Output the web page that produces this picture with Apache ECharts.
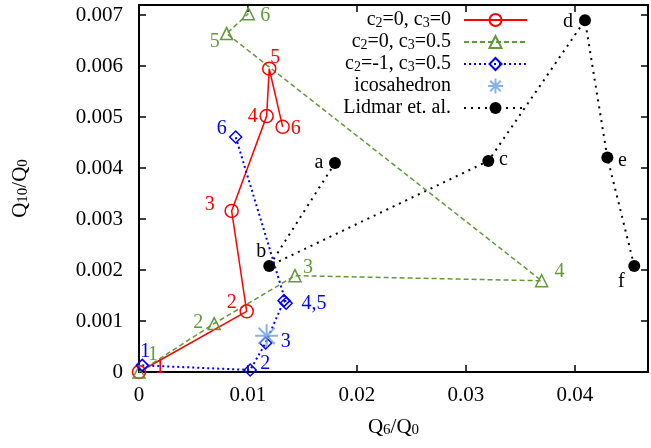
<!DOCTYPE html>
<html>
<head>
<meta charset="utf-8">
<script src="https://cdn.jsdelivr.net/npm/echarts@6/dist/echarts.min.js"></script>
<style>html,body{margin:0;padding:0;background:#fff}#c{width:651px;height:448px}</style>
</head>
<body>
<div id="c"></div>
<script>
// ---- data ----
const redX = [0, 0.00988, 0.0085, 0.01171, 0.01195, 0.01318];
const redY = [0, 0.00119, 0.00316, 0.00502, 0.00595, 0.00481];
const redLabels = ['1', '2', '3', '4', '5', '6'];

const greenX = [0, 0.0069, 0.01431, 0.03694, 0.00804, 0.01003];
const greenY = [0, 0.00095, 0.00189, 0.00179, 0.00664, 0.00703];
const greenLabels = ['1', '2', '3', '4', '5', '6'];

const blueX = [0.0003, 0.0102, 0.01162, 0.0133, 0.0135, 0.00887];
const blueY = [0.00013, 0.00004, 0.00057, 0.0014, 0.00135, 0.00461];
const blueLabels = ['1', '2', '3', '4,5', '', '6'];

const icoX = [0.01171];
const icoY = [0.00071];

const lidX = [0.01798, 0.01195, 0.03205, 0.04092, 0.04297, 0.04544];
const lidY = [0.0041, 0.00208, 0.00414, 0.0069, 0.00421, 0.00208];
const lidLabels = ['a', 'b', 'c', 'd', 'e', 'f'];

const xTicks = [0, 0.01, 0.02, 0.03, 0.04];
const yTicks = [0, 0.001, 0.002, 0.003, 0.004, 0.005, 0.006, 0.007];

const seriesNames = ['c2=0, c3=0', 'c2=0, c3=0.5', 'c2=-1, c3=0.5', 'icosahedron', 'Lidmar et. al.'];

// ---- style (label offsets in px, relative to the point) ----
const redOff = [[21, -4], [-15, -9], [-22, -6], [-14, 1], [6, -11], [13, 2]];
const greenOff = [[14, -17], [-16, -1], [13, -8], [18, -9], [-12, 8], [17, 2]];
const blueOff = [[3, -14], [15, -6], [20, -1], [30, 3], [0, 0], [-14, -8]];
const lidOff = [[-16, 0], [-8, -14], [15, -1], [-17, 1], [15, 3], [-13, 16]];

const FONT = '"Liberation Serif", "Times New Roman", serif';
const RED = '#ff0000', GREEN = '#62993a', BLUE = '#0000ff', STAR = '#6a9fe0', BLACK = '#000000';

function buildData(xs, ys, labels, offs, color) {
  return xs.map((x, i) => ({
    value: [x, ys[i]],
    name: labels ? labels[i] : '',
    label: labels ? {
      show: labels[i] !== '',
      position: 'inside',
      offset: offs[i],
      formatter: labels[i],
      color: color,
      fontFamily: FONT,
      fontSize: 20
    } : { show: false }
  }));
}

const legendRich = {
  n: { fontFamily: FONT, fontSize: 20, lineHeight: 20, color: '#000' },
  s: { fontFamily: FONT, fontSize: 14, lineHeight: 8, verticalAlign: 'bottom', color: '#000' }
};
function legendFmt(name) {
  const m = name.match(/^c2=(.*), c3=(.*)$/);
  if (m) return '{n|c}{s|2}{n|=' + m[1] + ', c}{s|3}{n|=' + m[2] + '}';
  return '{n|' + name + '}';
}

function tickFmt(list) {
  return function (v) {
    for (const t of list) if (Math.abs(v - t) < 1e-9) return String(t);
    return '';
  };
}

const chart = echarts.init(document.getElementById('c'), null, { renderer: 'canvas' });

const axisCommon = {
  type: 'value',
  axisLine: { show: true, onZero: false, lineStyle: { color: '#000', width: 2 } },
  axisTick: { show: true, inside: true, length: 7, lineStyle: { color: '#000', width: 1.5 } },
  splitLine: { show: false }
};

chart.setOption({
  animation: false,
  backgroundColor: '#fff',
  grid: { left: 139, right: 3, top: 5, bottom: 76, containLabel: false },
  xAxis: [
    Object.assign({}, axisCommon, {
      min: 0, max: 0.0467, interval: 0.01, position: 'bottom',
      axisLabel: { show: true, margin: 13, fontFamily: FONT, fontSize: 21, color: '#000', formatter: tickFmt(xTicks), showMaxLabel: false },
      name: '{n|Q}{s|6}{n|/Q}{s|0}',
      nameLocation: 'middle', nameGap: 44,
      nameTextStyle: { rich: {
        n: { fontFamily: FONT, fontSize: 21, lineHeight: 22, color: '#000' },
        s: { fontFamily: FONT, fontSize: 15, lineHeight: 8, verticalAlign: 'bottom', color: '#000' } } }
    }),
    Object.assign({}, axisCommon, {
      min: 0, max: 0.0467, interval: 0.01, position: 'top',
      axisLabel: { show: false }
    })
  ],
  yAxis: [
    Object.assign({}, axisCommon, {
      min: 0, max: 0.0072, interval: 0.001, position: 'left',
      axisLabel: { show: true, margin: 16, fontFamily: FONT, fontSize: 21, color: '#000', formatter: tickFmt(yTicks), showMaxLabel: false },
      name: '{n|Q}{s|10}{n|/Q}{s|0}',
      nameLocation: 'middle', nameGap: 108, nameRotate: 90,
      nameTextStyle: { rich: {
        n: { fontFamily: FONT, fontSize: 21, lineHeight: 22, color: '#000' },
        s: { fontFamily: FONT, fontSize: 15, lineHeight: 8, verticalAlign: 'bottom', color: '#000' } } }
    }),
    Object.assign({}, axisCommon, {
      min: 0, max: 0.0072, interval: 0.001, position: 'right',
      axisLabel: { show: false }
    })
  ],
  legend: {
    orient: 'vertical',
    align: 'right',
    right: 123,
    top: 10,
    padding: 0,
    itemGap: 2,
    itemWidth: 63,
    itemHeight: 15,
    formatter: legendFmt,
    textStyle: { rich: legendRich, padding: [0, 8, 0, 0] },
    data: seriesNames
  },
  series: [
    {
      name: seriesNames[0], type: 'line', xAxisIndex: 0, yAxisIndex: 0, clip: false,
      data: buildData(redX, redY, redLabels, redOff, RED),
      symbol: 'circle', symbolSize: 13,
      itemStyle: { color: 'rgba(255,255,255,0)', borderColor: RED, borderWidth: 1.5 },
      lineStyle: { color: RED, width: 1.5, type: 'solid' },
      z: 3
    },
    {
      name: seriesNames[1], type: 'line', clip: false,
      data: buildData(greenX, greenY, greenLabels, greenOff, GREEN),
      symbol: 'triangle', symbolSize: 12,
      itemStyle: { color: 'rgba(255,255,255,0)', borderColor: GREEN, borderWidth: 1.5 },
      lineStyle: { color: GREEN, width: 1.5, type: [5, 3] },
      z: 3
    },
    {
      name: seriesNames[2], type: 'line', clip: false,
      data: buildData(blueX, blueY, blueLabels, blueOff, BLUE),
      symbol: 'diamond', symbolSize: 12,
      itemStyle: { color: 'rgba(255,255,255,0)', borderColor: BLUE, borderWidth: 1.5 },
      lineStyle: { color: BLUE, width: 2, type: [2, 3] },
      z: 3
    },
    {
      name: seriesNames[3], type: 'scatter', clip: false,
      data: buildData(icoX, icoY, null, null, STAR),
      symbol: 'path://M0,-10L0,10M-10,0L10,0M-7.07,-7.07L7.07,7.07M-7.07,7.07L7.07,-7.07',
      symbolSize: 23,
      itemStyle: { color: 'rgba(255,255,255,0)', borderColor: STAR, borderWidth: 2 },
      z: 4
    },
    {
      name: seriesNames[4], type: 'line', clip: false,
      data: buildData(lidX, lidY, lidLabels, lidOff, BLACK),
      symbol: 'circle', symbolSize: 12,
      itemStyle: { color: BLACK },
      lineStyle: { color: BLACK, width: 2, type: [2, 5] },
      z: 2
    }
  ]
});
</script>
</body>
</html>
